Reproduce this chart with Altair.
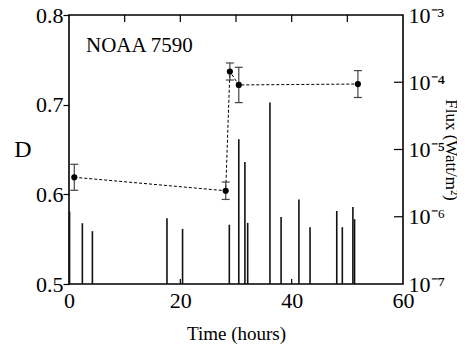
import altair as alt
import pandas as pd

# D measurements (NOAA 7590)
t_D = [0.95, 28.15, 28.9, 30.5, 51.9]
D_val = [0.619, 0.604, 0.737, 0.722, 0.723]
D_err = [0.0145, 0.0097, 0.0095, 0.0197, 0.015]

# X-ray flux spikes
t_flux = [0.1, 2.4, 4.2, 17.6, 20.4, 28.8, 30.5, 31.6, 32.1, 36.1,
          38.1, 41.3, 43.3, 48.1, 49.1, 51.0, 51.3]
flux = [1.19e-6, 8.0e-7, 6.1e-7, 9.5e-7, 6.6e-7, 7.6e-7, 1.42e-5, 6.5e-6, 8.1e-7, 5.0e-5,
        9.9e-7, 1.8e-6, 7.0e-7, 1.22e-6, 7.0e-7, 1.4e-6, 9.2e-7]

x_labels = [0, 20, 40, 60]
top_ticks = [10, 20, 30, 40, 50]
bottom_ticks = [20, 40]
D_ticks = [0.5, 0.6, 0.7, 0.8]
flux_ticks = [1e-7, 1e-6, 1e-5, 1e-4, 1e-3]
flux_inner_ticks = [1e-6, 1e-5, 1e-4]

W, H = 334, 269
FONT = "Liberation Serif"

dfD = pd.DataFrame({"t": t_D, "D": D_val,
                    "lo": [d - e for d, e in zip(D_val, D_err)],
                    "hi": [d + e for d, e in zip(D_val, D_err)]})
dfF = pd.DataFrame({"t": t_flux, "f": flux, "base": [1e-7] * len(flux)})

xs = alt.Scale(domain=[0, 60], nice=False, zero=False)
ys_D = alt.Scale(domain=[0.5, 0.8], nice=False, zero=False)
ys_F = alt.Scale(type="log", domain=[1e-7, 1e-3], nice=False)

x_axis = alt.Axis(values=x_labels, ticks=False, domain=False, grid=False,
                  labelFontSize=22, labelFont=FONT, labelPadding=6, labelColor="black",
                  labelFlush=False, labelOverlap=False,
                  title="Time (hours)", titleFont=FONT, titleFontSize=19,
                  titleFontWeight="normal", titlePadding=13, titleColor="black")

flux_axis = alt.Axis(
    orient="right", values=flux_ticks, ticks=False, domain=False, grid=False,
    labelExpr="datum.value < 5e-7 ? '10⁻⁷' : datum.value < 5e-6 ? '10⁻⁶' : datum.value < 5e-5 ? '10⁻⁵' : datum.value < 5e-4 ? '10⁻⁴' : '10⁻³'",
    labelFontSize=22, labelFont=FONT, labelPadding=5, labelColor="black",
    labelOverlap=False, labelFlush=False,
    title="Flux (Watt/m²)", titleFont=FONT, titleFontSize=17, titleFontWeight="normal",
    titleAngle=90, titleX=42, titleY=H / 2, titleAlign="center",
    titleBaseline="alphabetic", titleColor="black")

D_axis = alt.Axis(
    orient="left", values=D_ticks, format=".1f", tickSize=6, tickColor="black",
    tickWidth=1.2, domain=False, grid=False, labelFontSize=22, labelFont=FONT,
    labelPadding=0, labelColor="black", labelFlush=False, labelOverlap=False,
    title="D", titleFont=FONT, titleFontSize=24, titleFontWeight="normal",
    titleAngle=0, titleAlign="right", titleBaseline="middle",
    titleX=-38, titleY=134, titleColor="black")

X = alt.X("t:Q", scale=xs, axis=x_axis)

spikes = alt.Chart(dfF).mark_rule(color="#111", strokeWidth=1.6).encode(
    x=X,
    y=alt.Y("f:Q", scale=ys_F, axis=flux_axis),
    y2="base:Q",
)

rticks = alt.Chart(pd.DataFrame({"v": flux_inner_ticks})).mark_rule(color="black", strokeWidth=1.2).encode(
    y=alt.Y("v:Q", scale=ys_F, axis=None),
    x=alt.value(W - 9), x2=alt.value(W),
)

line = alt.Chart(dfD).mark_line(color="black", strokeWidth=1, strokeDash=[3, 2]).encode(
    x=X,
    y=alt.Y("D:Q", scale=ys_D, axis=D_axis),
)

err = alt.Chart(dfD).mark_rule(color="#444", strokeWidth=1.2).encode(
    x=X,
    y=alt.Y("lo:Q", scale=ys_D, axis=None),
    y2="hi:Q",
)
cap_hi = alt.Chart(dfD).mark_rule(color="#444", strokeWidth=1.2, xOffset=-4, x2Offset=4).encode(
    x=X, x2="t:Q",
    y=alt.Y("hi:Q", scale=ys_D, axis=None),
)
cap_lo = alt.Chart(dfD).mark_rule(color="#444", strokeWidth=1.2, xOffset=-4, x2Offset=4).encode(
    x=X, x2="t:Q",
    y=alt.Y("lo:Q", scale=ys_D, axis=None),
)
pts = alt.Chart(dfD).mark_point(filled=True, color="black", size=38, opacity=1).encode(
    x=X,
    y=alt.Y("D:Q", scale=ys_D, axis=None),
)

top_t = alt.Chart(pd.DataFrame({"t": top_ticks})).mark_rule(color="black", strokeWidth=1.2).encode(
    x=X, y=alt.value(0), y2=alt.value(7),
)
bot_t = alt.Chart(pd.DataFrame({"t": bottom_ticks})).mark_rule(color="black", strokeWidth=1.2).encode(
    x=X, y=alt.value(H - 5), y2=alt.value(H),
)
label = alt.Chart(pd.DataFrame({"txt": ["NOAA 7590"]})).mark_text(
    align="left", baseline="alphabetic", font=FONT, fontSize=21, color="black"
).encode(text="txt:N", x=alt.value(17), y=alt.value(37))

chart = alt.layer(spikes, rticks, line, err, cap_hi, cap_lo, pts, top_t, bot_t, label).resolve_scale(
    y="independent"
).properties(
    width=W, height=H,
    background="white",
    autosize=alt.AutoSizeParams(type="none"),
    padding={"left": 61, "top": 7, "right": 54, "bottom": 60},
).configure_view(stroke="black", strokeWidth=1.6)

chart.save("out.html", embed_options={"renderer": "svg", "actions": False})
